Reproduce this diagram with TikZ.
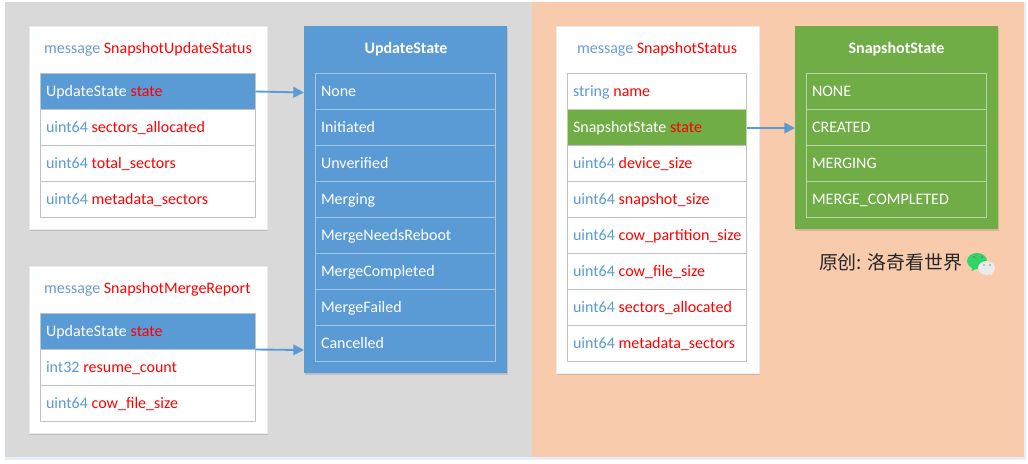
\documentclass[tikz,border=0pt]{standalone}
\usepackage{fontspec}
\setmainfont{Carlito}
\newfontfamily\cjkfont{Noto Sans CJK SC}
\usetikzlibrary{arrows.meta,shadows,calc}
\definecolor{bluefill}{HTML}{5B9BD5}
\definecolor{greenfill}{HTML}{70AD47}
\definecolor{typeblue}{HTML}{5B9BD5}
\definecolor{msgblue}{HTML}{6C9BD5}
\definecolor{grayback}{HTML}{D9D9D9}
\definecolor{peachback}{HTML}{F7CBAC}
\definecolor{rowline}{HTML}{BFC3C8}
\definecolor{fieldred}{HTML}{FF0000}
\definecolor{bubblegreen}{HTML}{2FD566}
\definecolor{paleband}{HTML}{E6EFF8}
\tikzset{
  x=0.75pt,y=-0.75pt,
  every node/.style={font=\fontsize{12}{14}\selectfont,outer sep=0pt},
  softshadow/.style={drop shadow={shadow xshift=1pt,shadow yshift=-1.2pt,opacity=.22,fill=black!60}},
  panel/.style={rectangle,anchor=north west,draw=none,softshadow,inner sep=0pt},
  cardpanel/.style={panel,fill=white,draw=black!8,line width=.5pt},
  bluepanel/.style={panel,fill=bluefill},
  greenpanel/.style={panel,fill=greenfill},
  rowbase/.style={rectangle,anchor=north west,align=left,inner xsep=3.75pt,inner ysep=0pt,minimum height=27pt,line width=.75pt},
  whiterow/.style={rowbase,draw=rowline,fill=white,text=typeblue},
  bluerow/.style={rowbase,draw=rowline,fill=bluefill,text=white},
  lightbluerow/.style={rowbase,draw=white!45!bluefill,fill=bluefill,text=white},
  lightgreenrow/.style={rowbase,draw=white!50!greenfill,fill=greenfill,text=white},
  greenrow/.style={rowbase,draw=white!50!greenfill,fill=greenfill,text=white},
  titletext/.style={anchor=base,text=white,inner sep=0pt},
  msgtext/.style={anchor=base west,text=msgblue,inner sep=0pt},
  link/.style={draw=bluefill,line width=1.4pt,-{Triangle[length=8pt,width=8pt]}}
}
\newcommand{\fld}[1]{\textcolor{fieldred}{#1}}
\newcommand{\rf}[1]{\unskip\kern2.8pt\textcolor{fieldred}{#1}}
\newcommand{\rowtext}[1]{\strut\makebox[0pt][l]{\kern.4pt\raisebox{-.75pt}{#1}}}
\begin{document}
\begin{tikzpicture}
\useasboundingbox (0,0) rectangle (1028,464);
\fill[white] (0,0) rectangle (1028,464);
\fill[paleband] (4.5,457) rectangle (1026,460);
\fill[paleband] (1023.5,2) rectangle (1026,460);
\fill[grayback] (4.5,2) rectangle (532,457);
\fill[peachback] (532,2) rectangle (1023.5,457);

% card 1
\node[cardpanel,minimum width=178.5pt,minimum height=152.25pt] (card1) at (29,26.5) {};
\node[msgtext] (t1) at (44,53) {message \fld{SnapshotUpdateStatus}};
\node[bluerow,text width=153.75pt] (a1) at (40.5,73.5) {\rowtext{UpdateState \rf{state}}};
\node[whiterow,text width=153.75pt] (a2) at (40.5,109.5) {\rowtext{uint64 \rf{sectors\_allocated}}};
\node[whiterow,text width=153.75pt] (a3) at (40.5,145.5) {\rowtext{uint64 \rf{total\_sectors}}};
\node[whiterow,text width=153.75pt] (a4) at (40.5,181.5) {\rowtext{uint64 \rf{metadata\_sectors}}};

% card 2
\node[cardpanel,minimum width=178.5pt,minimum height=125.25pt] (card2) at (29,266.5) {};
\node[msgtext] (t2) at (44,293) {message \fld{SnapshotMergeReport}};
\node[bluerow,text width=153.75pt] (b1) at (40.5,313.5) {\rowtext{UpdateState \rf{state}}};
\node[whiterow,text width=153.75pt] (b2) at (40.5,349.5) {\rowtext{int32 \rf{resume\_count}}};
\node[whiterow,text width=153.75pt] (b3) at (40.5,385.5) {\rowtext{uint64 \rf{cow\_file\_size}}};

% UpdateState
\node[bluepanel,minimum width=152.25pt,minimum height=260.25pt] (us) at (304,26) {};
\node[titletext] (ust) at (406,53) {\textbf{UpdateState}};
\node[lightbluerow,text width=127.5pt] (u1) at (315.5,73.5) {\rowtext{None}};
\node[lightbluerow,text width=127.5pt] (u2) at (315.5,109.5) {\rowtext{Initiated}};
\node[lightbluerow,text width=127.5pt] (u3) at (315.5,145.5) {\rowtext{Unverified}};
\node[lightbluerow,text width=127.5pt] (u4) at (315.5,181.5) {\rowtext{Merging}};
\node[lightbluerow,text width=127.5pt] (u5) at (315.5,217.5) {\rowtext{MergeNeedsReboot}};
\node[lightbluerow,text width=127.5pt] (u6) at (315.5,253.5) {\rowtext{MergeCompleted}};
\node[lightbluerow,text width=127.5pt] (u7) at (315.5,289.5) {\rowtext{MergeFailed}};
\node[lightbluerow,text width=127.5pt] (u8) at (315.5,325.5) {\rowtext{Cancelled}};

% card 3
\node[cardpanel,minimum width=152.25pt,minimum height=260.25pt] (card3) at (556,26.5) {};
\node[msgtext] (t3) at (577,53) {message \fld{SnapshotStatus}};
\node[whiterow,text width=126.75pt] (c1) at (567.5,73.5) {\rowtext{string \rf{name}}};
\node[greenrow,text width=126.75pt] (c2) at (567.5,109.5) {\rowtext{SnapshotState \rf{state}}};
\node[whiterow,text width=126.75pt] (c3) at (567.5,145.5) {\rowtext{uint64 \rf{device\_size}}};
\node[whiterow,text width=126.75pt] (c4) at (567.5,181.5) {\rowtext{uint64 \rf{snapshot\_size}}};
\node[whiterow,text width=126.75pt] (c5) at (567.5,217.5) {\rowtext{uint64 \rf{cow\_partition\_size}}};
\node[whiterow,text width=126.75pt] (c6) at (567.5,253.5) {\rowtext{uint64 \rf{cow\_file\_size}}};
\node[whiterow,text width=126.75pt] (c7) at (567.5,289.5) {\rowtext{uint64 \rf{sectors\_allocated}}};
\node[whiterow,text width=126.75pt] (c8) at (567.5,325.5) {\rowtext{uint64 \rf{metadata\_sectors}}};

% SnapshotState
\node[greenpanel,minimum width=152.25pt,minimum height=152.25pt] (ss) at (795,26) {};
\node[titletext] (sst) at (896.5,53) {\textbf{SnapshotState}};
\node[lightgreenrow,text width=127.5pt] (s1) at (806.5,73.5) {\rowtext{NONE}};
\node[lightgreenrow,text width=127.5pt] (s2) at (806.5,109.5) {\rowtext{CREATED}};
\node[lightgreenrow,text width=127.5pt] (s3) at (806.5,145.5) {\rowtext{MERGING}};
\node[lightgreenrow,text width=127.5pt] (s4) at (806.5,181.5) {\rowtext{MERGE\_COMPLETED}};

% connectors
\coordinate (e1) at (304,92.5);
\coordinate (e2) at (304,350);
\coordinate (e3) at (795,128);
\coordinate (f3) at ($(c2.east)+(0,.5)$);
\draw[link] (a1.east) -- (e1);
\draw[link] (b1.south east) -- (e2);
\draw[link] (f3) -- (e3);

% caption
\node[anchor=base west,inner sep=0pt,text=black!85,font=\cjkfont\fontsize{14.2}{17}\selectfont] (cap) at (819,269) {原创: 洛奇看世界};

% chat icon
\fill[bubblegreen] (977,261) ellipse[x radius=10,y radius=8];
\fill[bubblegreen] (972,267) -- (971.5,271) -- (977,268.5) -- cycle;
\fill[black!55] (974,257) circle[radius=1] (982,257) circle[radius=1];
\fill[white!92!black] (986.5,268) ellipse[x radius=8.5,y radius=7];
\fill[white!92!black] (989,273) -- (992,276) -- (992,271) -- cycle;
\fill[black!45] (984,265) circle[radius=.9] (990,265) circle[radius=.9];
\end{tikzpicture}
\end{document}
